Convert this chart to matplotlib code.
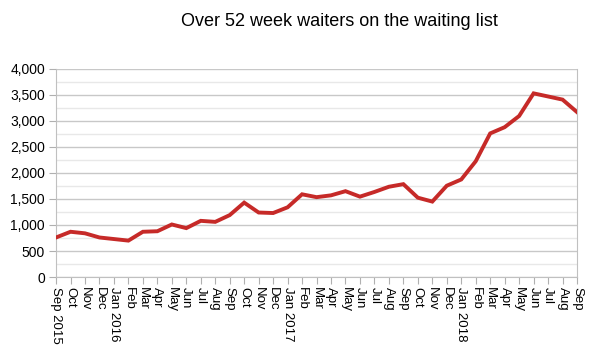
import matplotlib.pyplot as plt
from matplotlib.ticker import FuncFormatter, MultipleLocator

plt.rcParams['font.family'] = ['Liberation Sans', 'DejaVu Sans']

months = ["Sep 2015", "Oct", "Nov", "Dec", "Jan 2016", "Feb", "Mar", "Apr", "May", "Jun",
          "Jul", "Aug", "Sep", "Oct", "Nov", "Dec", "Jan 2017", "Feb", "Mar", "Apr", "May",
          "Jun", "Jul", "Aug", "Sep", "Oct", "Nov", "Dec", "Jan 2018", "Feb", "Mar", "Apr",
          "May", "Jun", "Jul", "Aug", "Sep"]
waiters = [760, 870, 840, 760, 730, 700, 870, 880, 1010, 940,
           1080, 1060, 1190, 1430, 1240, 1230, 1340, 1590, 1535, 1570, 1650,
           1545, 1635, 1735, 1785, 1525, 1450, 1755, 1875, 2225, 2760, 2880,
           3095, 3530, 3470, 3410, 3170]

fig = plt.figure(figsize=(5.9, 3.57), dpi=100)
ax = fig.add_axes([0.095, 0.224, 0.883, 0.583])

x = range(len(months))
ax.plot(x, waiters, color="#c62a28", linewidth=2.8, solid_joinstyle="miter", zorder=3)

ax.set_xlim(0, len(months) - 1)
ax.set_ylim(0, 4000)
ax.yaxis.set_major_locator(MultipleLocator(500))
ax.yaxis.set_minor_locator(MultipleLocator(250))
ax.yaxis.set_major_formatter(FuncFormatter(lambda v, p: f"{int(v):,}"))
ax.grid(axis="y", which="major", color="#c8c8c8", linewidth=1.0)
ax.grid(axis="y", which="minor", color="#e8e8e8", linewidth=1.0)
ax.set_axisbelow(True)

ax.set_xticks(list(x))
ax.set_xticklabels(months, rotation=-90, va="top", ha="center", fontsize=9.5)
ax.tick_params(axis="y", which="major", labelsize=10, length=5, color="#b0b0b0", pad=3)
ax.tick_params(axis="y", which="minor", length=0)
ax.tick_params(axis="x", length=5, color="#b0b0b0", pad=2)

for side in ["left", "bottom", "right", "top"]:
    ax.spines[side].set_color("#c0c0c0")
ax.spines["top"].set_visible(False)

fig.text(0.576, 0.94, "Over 52 week waiters on the waiting list", ha="center", va="center", fontsize=13)

fig.savefig("out.png", dpi=100)
